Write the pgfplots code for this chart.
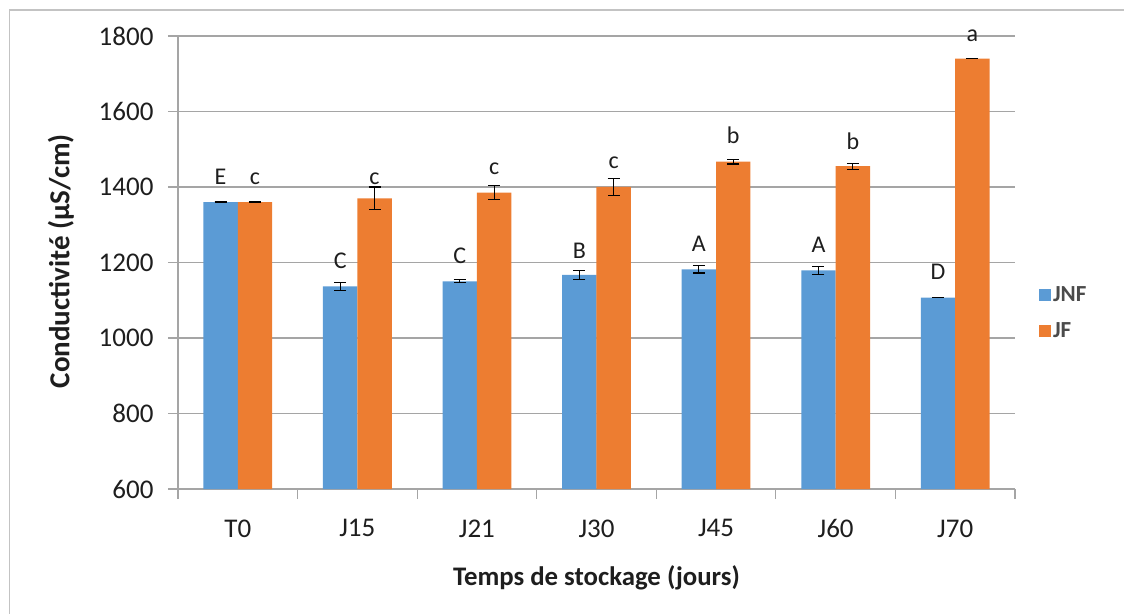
\documentclass[border=0pt]{standalone}
\usepackage{pgfplots}
\pgfplotsset{compat=1.18}
\usepackage{pgfplotstable}
\usepackage{fontspec}
\setmainfont{Carlito}
\definecolor{jnf}{RGB}{91,155,213}
\definecolor{jf}{RGB}{237,125,49}
\definecolor{gridg}{RGB}{165,165,165}
\definecolor{frameg}{RGB}{195,195,195}
\definecolor{txt}{RGB}{30,30,30}

\pgfplotstableread{
x  jnf   ejnf  ljnf  tjnf  jf    ejf  ljf   tjf
0  1360  0     1407  E     1360  0    1407  c
1  1137  11    1184  C     1370  30   1407  c
2  1150  4     1197  C     1385  18   1433  c
3  1167  11    1211  B     1400  23   1449  c
4  1182  10    1230  A     1467  6    1515  b
5  1179  10    1226  A     1455  8    1500  b
6  1107  0     1154  D     1740  0    1785  a
}\data

\begin{document}
\begin{tikzpicture}
\useasboundingbox (-178bp,-125bp) rectangle (946bp,489bp);
\draw[frameg, line width=1.5bp] (-168.5bp,-130bp) -- (-168.5bp,479bp) -- (950bp,479bp);
\begin{axis}[
  at={(0,0)}, anchor=south west,
  scale only axis, width=837bp, height=453bp,
  clip=false,
  xmin=-0.5, xmax=6.5,
  ymin=600, ymax=1800,
  ytick={600,800,...,1800},
  yticklabel style={/pgf/number format/1000 sep={}, /pgf/number format/assume math mode=true, font=\fontsize{27bp}{32bp}\selectfont, text=txt, xshift=-11bp},
  xtick={-0.5,0.5,...,6.5},
  xticklabels={},
  extra x ticks={0,1,2,3,4,5,6},
  extra x tick labels={T0,J15,J21,J30,J45,J60,J70},
  extra x tick style={major tick length=0pt, xticklabel style={font=\fontsize{27bp}{32bp}\selectfont, text=txt, yshift=-27bp}},
  axis x line*=bottom, axis y line*=left,
  axis line style={gridg, line width=1.2bp},
  tick style={gridg, line width=1.2bp},
  tick align=outside,
  major tick length=10bp,
  ymajorgrids, grid style={gridg, line width=1.2bp},
  xlabel={Temps de stockage (jours)},
  ylabel={Conductivité (µS/cm)},
  xlabel style={at={(axis description cs:0.5,-0.1965)}, anchor=center, font=\bfseries\fontsize{26.8bp}{32bp}\selectfont, text=txt},
  ylabel style={at={(axis description cs:-0.1398,0.503)}, anchor=center, rotate=0, font=\bfseries\fontsize{29bp}{34bp}\selectfont, text=txt},
  legend image code/.code={\fill[#1] (0bp,-6bp) rectangle (12bp,6bp);},
  legend style={at={(axis description cs:1.025,0.455)}, anchor=north west, draw=none, fill=none,
    font=\bfseries\fontsize{23bp}{27bp}\selectfont, text=txt!80!white, row sep=15bp, legend cell align=left},
  error bars/error bar style={black, line width=1.2bp},
  error bars/error mark options={rotate=90, mark size=6bp, black, line width=1.2bp},
]
\addplot[ybar, bar width=0.2877, bar shift=0pt, fill=jnf, draw=none,
  error bars/.cd, y dir=both, y explicit]
  table[x expr=\thisrow{x}-0.1438, y=jnf, y error=ejnf]{\data};
\addlegendentry{JNF}
\addplot[ybar, bar width=0.2877, bar shift=0pt, fill=jf, draw=none,
  error bars/.cd, y dir=both, y explicit]
  table[x expr=\thisrow{x}+0.1438, y=jf, y error=ejf]{\data};
\addlegendentry{JF}
\addplot[forget plot, only marks, mark=none, nodes near coords, point meta=explicit symbolic,
  nodes near coords style={anchor=base, font=\fontsize{24bp}{28bp}\selectfont, text=txt}]
  table[x expr=\thisrow{x}-0.1438, y=ljnf, meta=tjnf]{\data};
\addplot[forget plot, only marks, mark=none, nodes near coords, point meta=explicit symbolic,
  nodes near coords style={anchor=base, font=\fontsize{24bp}{28bp}\selectfont, text=txt}]
  table[x expr=\thisrow{x}+0.1438, y=ljf, meta=tjf]{\data};
\end{axis}
\end{tikzpicture}
\end{document}
